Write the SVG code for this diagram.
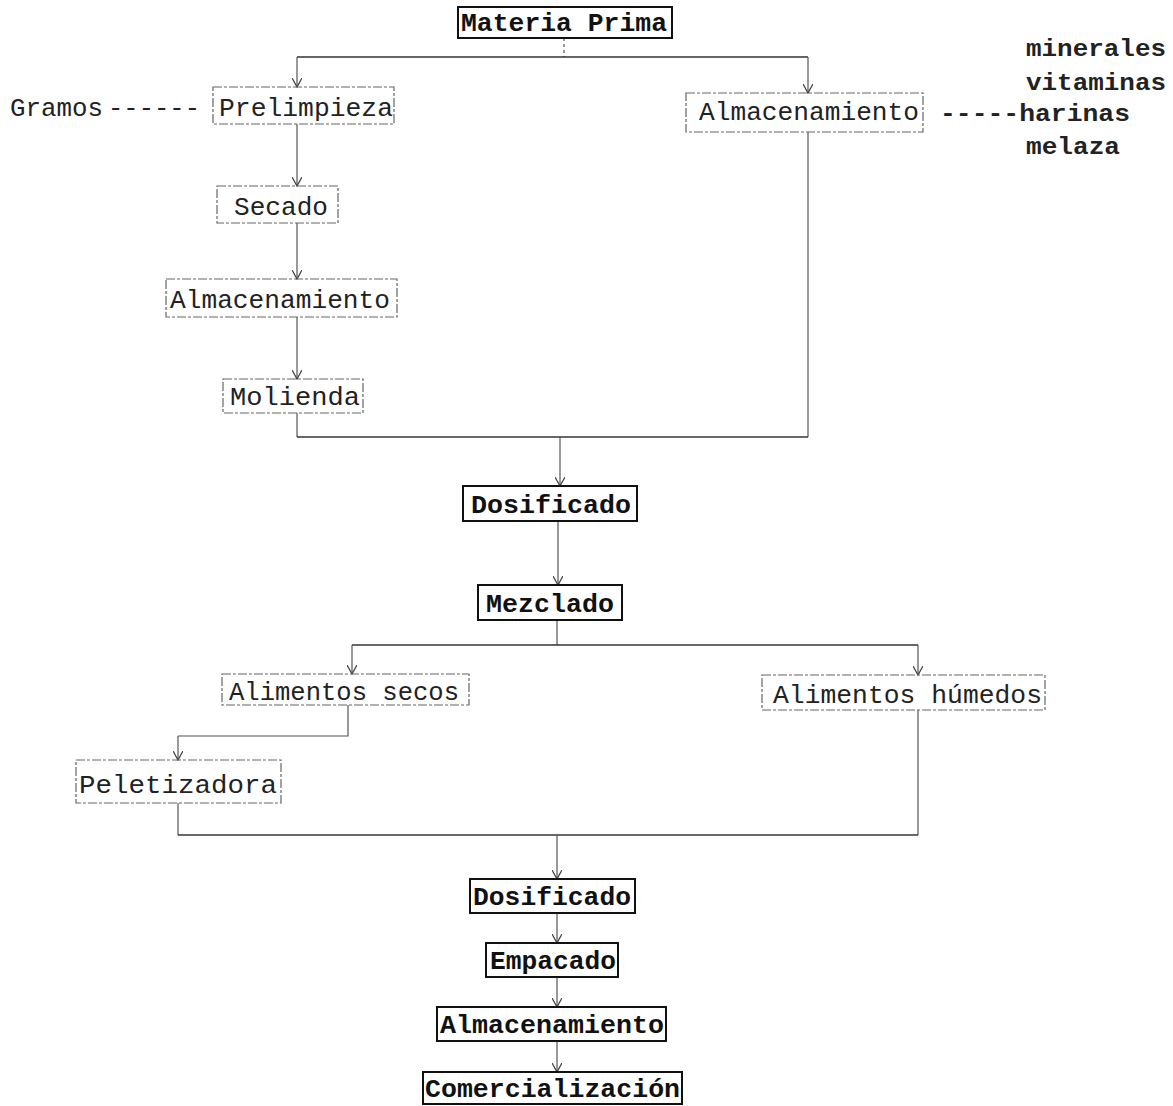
<svg xmlns="http://www.w3.org/2000/svg" width="1173" height="1106" viewBox="0 0 1173 1106">
<style>
  .bg { fill: #ffffff; }
  .box { fill: none; stroke: #666; stroke-width: 1.2; stroke-dasharray: 9 2 3 2; }
  .boxb { fill: none; stroke: #111; stroke-width: 2; }
  .t { font-family: "Liberation Mono", "Courier New", monospace; font-size: 26px; fill: #222; }
  .tb { font-family: "Liberation Mono", "Courier New", monospace; font-size: 26px; font-weight: bold; fill: #111; }
  .side { font-family: "Liberation Mono", "Courier New", monospace; font-size: 24px; font-weight: bold; fill: #222; }
  .c { fill: none; stroke: #555; stroke-width: 1.2; }
  .cm { fill: none; stroke: #333; stroke-width: 1.6; }
</style>
<defs>
  <marker id="arr" viewBox="0 0 10 10" refX="9" refY="5" markerWidth="10" markerHeight="10" markerUnits="userSpaceOnUse" orient="auto">
    <path d="M0,0 L9,5 L0,10" fill="none" stroke="#444" stroke-width="1.3"/>
  </marker>
</defs>
<rect class="bg" x="0" y="0" width="1173" height="1106"/>

<g id="connectors">
  <path class="c" d="M564,38 V57" stroke-dasharray="3 3"/>
  <path class="cm" d="M297,57 H808"/>
  <path class="c" d="M297,57 V87" marker-end="url(#arr)"/>
  <path class="c" d="M808,57 V93" marker-end="url(#arr)"/>
  <path class="c" d="M297,124 V186" marker-end="url(#arr)"/>
  <path class="c" d="M297,223 V279" marker-end="url(#arr)"/>
  <path class="c" d="M297,317 V379" marker-end="url(#arr)"/>
  <path class="c" d="M297,413 V437"/>
  <path class="c" d="M808,132 V437"/>
  <path class="cm" d="M297,437 H808"/>
  <path class="c" d="M560,437 V486" marker-end="url(#arr)"/>
  <path class="c" d="M558,521 V585" marker-end="url(#arr)"/>
  <path class="c" d="M557,620 V645"/>
  <path class="cm" d="M352,645 H918"/>
  <path class="c" d="M352,645 V674" marker-end="url(#arr)"/>
  <path class="c" d="M918,645 V675" marker-end="url(#arr)"/>
  <path class="c" d="M348,705 V736 H178"/>
  <path class="c" d="M178,736 V760" marker-end="url(#arr)"/>
  <path class="c" d="M178,803 V835"/>
  <path class="c" d="M918,710 V835"/>
  <path class="cm" d="M178,835 H918"/>
  <path class="c" d="M557,835 V879" marker-end="url(#arr)"/>
  <path class="c" d="M557,913 V943" marker-end="url(#arr)"/>
  <path class="c" d="M557,977 V1007" marker-end="url(#arr)"/>
  <path class="c" d="M557,1041 V1072" marker-end="url(#arr)"/>
</g>

<g id="n-materia-prima">
  <rect class="boxb" x="458" y="7" width="214" height="31"/>
  <text class="tb" x="461" y="31" textLength="206" lengthAdjust="spacingAndGlyphs">Materia Prima</text>
</g>
<g id="n-gramos">
  <text class="t" x="10" y="116" textLength="93" lengthAdjust="spacingAndGlyphs">Gramos</text>
  <text class="t" x="108" y="116" textLength="92" lengthAdjust="spacingAndGlyphs">------</text>
</g>
<g id="n-prelimpieza">
  <rect class="box" x="213" y="87" width="181" height="37"/>
  <text class="t" x="219" y="116" textLength="174" lengthAdjust="spacingAndGlyphs">Prelimpieza</text>
</g>
<g id="n-almacenamiento-r">
  <rect class="box" x="686" y="93" width="237" height="39"/>
  <text class="t" x="699" y="120" textLength="220" lengthAdjust="spacingAndGlyphs">Almacenamiento</text>
</g>
<g id="n-ingredientes">
  <text class="side" x="1026" y="56" textLength="140" lengthAdjust="spacingAndGlyphs">minerales</text>
  <text class="side" x="1026" y="90" textLength="140" lengthAdjust="spacingAndGlyphs">vitaminas</text>
  <text class="side" x="940" y="121" textLength="190" lengthAdjust="spacingAndGlyphs">-----harinas</text>
  <text class="side" x="1026" y="154" textLength="94" lengthAdjust="spacingAndGlyphs">melaza</text>
</g>
<g id="n-secado">
  <rect class="box" x="217" y="186" width="121" height="37"/>
  <text class="t" x="234" y="215" textLength="94" lengthAdjust="spacingAndGlyphs">Secado</text>
</g>
<g id="n-almacenamiento-l">
  <rect class="box" x="166" y="279" width="231" height="38"/>
  <text class="t" x="170" y="308" textLength="220" lengthAdjust="spacingAndGlyphs">Almacenamiento</text>
</g>
<g id="n-molienda">
  <rect class="box" x="223" y="379" width="140" height="34"/>
  <text class="t" x="230" y="405" textLength="130" lengthAdjust="spacingAndGlyphs">Molienda</text>
</g>
<g id="n-dosificado-1">
  <rect class="boxb" x="463" y="486" width="174" height="35" stroke-width="1.5"/>
  <text class="tb" x="471" y="513" textLength="160" lengthAdjust="spacingAndGlyphs">Dosificado</text>
</g>
<g id="n-mezclado">
  <rect class="boxb" x="478" y="585" width="144" height="35" stroke-width="1.5"/>
  <text class="tb" x="486" y="612" textLength="128" lengthAdjust="spacingAndGlyphs">Mezclado</text>
</g>
<g id="n-alimentos-secos">
  <rect class="box" x="222" y="674" width="247" height="31"/>
  <text class="t" x="229" y="700" textLength="230" lengthAdjust="spacingAndGlyphs">Alimentos secos</text>
</g>
<g id="n-alimentos-humedos">
  <rect class="box" x="762" y="675" width="283" height="35"/>
  <text class="t" x="773" y="703" textLength="269" lengthAdjust="spacingAndGlyphs">Alimentos húmedos</text>
</g>
<g id="n-peletizadora">
  <rect class="box" x="76" y="760" width="205" height="43"/>
  <text class="t" x="79" y="793" textLength="198" lengthAdjust="spacingAndGlyphs">Peletizadora</text>
</g>
<g id="n-dosificado-2">
  <rect class="boxb" x="470" y="879" width="165" height="34"/>
  <text class="tb" x="473" y="905" textLength="158" lengthAdjust="spacingAndGlyphs">Dosificado</text>
</g>
<g id="n-empacado">
  <rect class="boxb" x="486" y="943" width="132" height="34"/>
  <text class="tb" x="490" y="969" textLength="126" lengthAdjust="spacingAndGlyphs">Empacado</text>
</g>
<g id="n-almacenamiento-final">
  <rect class="boxb" x="437" y="1007" width="229" height="34"/>
  <text class="tb" x="440" y="1033" textLength="224" lengthAdjust="spacingAndGlyphs">Almacenamiento</text>
</g>
<g id="n-comercializacion">
  <rect class="boxb" x="423" y="1072" width="259" height="32"/>
  <text class="tb" x="425" y="1097" textLength="255" lengthAdjust="spacingAndGlyphs">Comercialización</text>
</g>
</svg>
